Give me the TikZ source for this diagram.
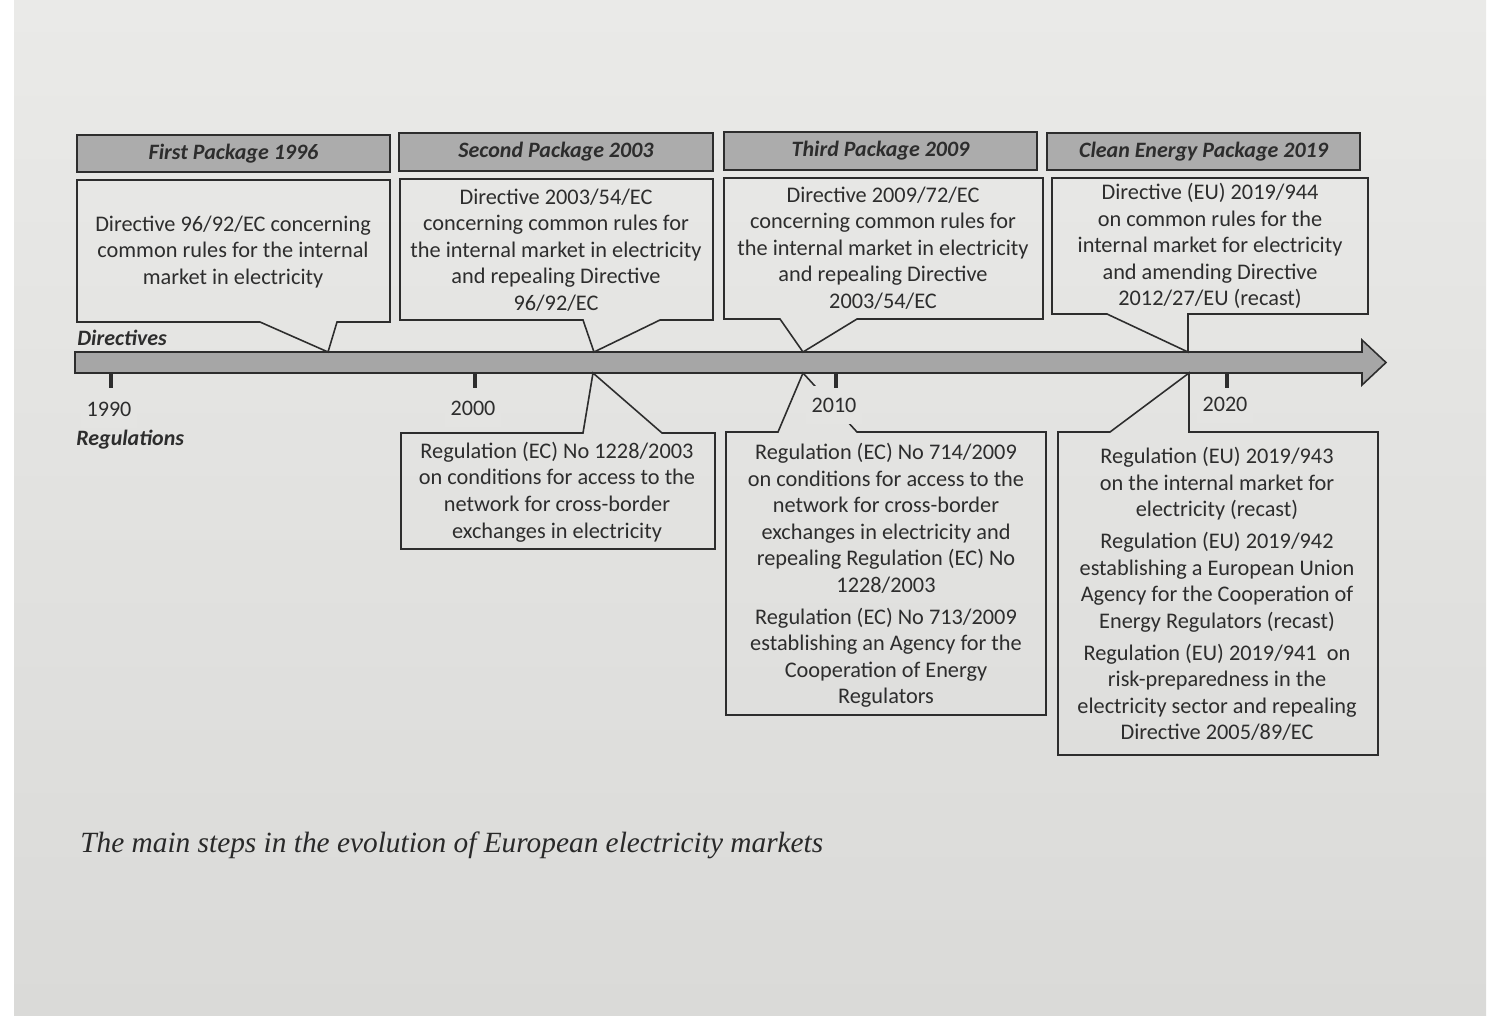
\documentclass[tikz,border=0pt]{standalone}
\usepackage{fontspec}
\setmainfont{Carlito}
\newfontfamily\captionserif{Liberation Serif}
\usepackage{tikz}
\usetikzlibrary{positioning,calc}
\usepackage{xcolor}

\definecolor{papertop}{RGB}{234,234,232}
\definecolor{paperbot}{RGB}{218,218,216}
\definecolor{paper}{RGB}{228,228,226}
\definecolor{pkggray}{RGB}{172,172,172}
\definecolor{axisgray}{RGB}{166,166,166}
\definecolor{ink}{RGB}{45,45,45}

\tikzset{
  pkg/.style={draw=ink, fill=pkggray, line width=0.9pt, minimum width=6.27cm,
    minimum height=0.75cm, inner sep=0pt, text=ink,
    font=\bfseries\itshape\fontsize{12.5}{14}\selectfont},
  callbox/.style={draw=ink, line width=0.9pt, line join=miter},
  bodytext/.style={align=center, text=ink, inner sep=0pt,
    font=\fontsize{12.7}{15.1}\selectfont},
  sidelabel/.style={anchor=west, text=ink, inner sep=0pt,
    font=\bfseries\itshape\fontsize{12.5}{14}\selectfont},
  yearlabel/.style={text=ink, fill=paper, inner xsep=3pt, inner ysep=6.5pt,
    font=\fontsize{12.6}{14}\selectfont},
}

\begin{document}
\begin{tikzpicture}[x=0.02cm, y=-0.02cm]
  \useasboundingbox (0,0) rectangle (1494,1015);
  % Page
  \fill[white] (0,0) rectangle (1494,1015);
  \shade[top color=papertop, bottom color=paperbot] (14,0) rectangle (1486,1015);

  % Package headers
  \node[pkg] (pkg1) at (233.5,153.5) {First Package 1996};
  \node[pkg] (pkg2) at (556,152) {Second Package 2003};
  \node[pkg] (pkg3) at (880.5,151) {Third Package 2009};
  \node[pkg] (pkg4) at (1203.5,151.5) {Clean Energy Package 2019};

  % Time axis
  \filldraw[fill=axisgray, draw=ink, line width=0.9pt, line join=miter]
    (75,352) -- (1362,352) -- (1362,340) -- (1386,362.5) -- (1362,385)
    -- (1362,373) -- (75,373) -- cycle;
  \node[sidelabel] (dirlabel) at (77,338) {Directives};
  \node[sidelabel] (reglabel) at (76,440) {Regulations};

  % Directive callouts (pointing down to the axis)
  \draw[callbox] (77,180) -- (390,180) -- (390,322) -- (337,322) -- (328,352)
    -- (260,322) -- (77,322) -- cycle;
  \node[bodytext] (dir1) at (233,252)
    {Directive 96/92/EC concerning\\common rules for the internal\\market in electricity};

  \draw[callbox] (400,179) -- (713,179) -- (713,320) -- (660,320) -- (594,352)
    -- (583,320) -- (400,320) -- cycle;
  \node[bodytext] (dir2) at (556,250)
    {Directive 2003/54/EC\\concerning common rules for\\the internal market in electricity\\and repealing Directive\\96/92/EC};

  \draw[callbox] (724,178) -- (1043,178) -- (1043,319) -- (857,319) -- (803,352)
    -- (780,319) -- (724,319) -- cycle;
  \node[bodytext] (dir3) at (883,248)
    {Directive 2009/72/EC\\concerning common rules for\\the internal market in electricity\\and repealing Directive\\2003/54/EC};

  \draw[callbox] (1052,178) -- (1368,178) -- (1368,314) -- (1188,314) -- (1188,352)
    -- (1107,314) -- (1052,314) -- cycle;
  \node[bodytext] (dir4) at (1210,246)
    {Directive (EU) 2019/944\\on common rules for the\\internal market for electricity\\and amending Directive\\2012/27/EU (recast)};

  % Regulation callouts (pointing up to the axis)
  \draw[callbox] (401,433) -- (583,433) -- (593,373) -- (662,433) -- (715,433)
    -- (715,549) -- (401,549) -- cycle;
  \node[bodytext] (reg2) at (557,492)
    {Regulation (EC) No 1228/2003\\on conditions for access to the\\network for cross-border\\exchanges in electricity};

  \draw[callbox] (726,432) -- (778,432) -- (803,373) -- (857,432) -- (1046,432)
    -- (1046,715) -- (726,715) -- cycle;
  \node[bodytext] (reg3) at (886,575.5)
    {Regulation (EC) No 714/2009\\on conditions for access to the\\network for cross-border\\exchanges in electricity and\\repealing Regulation (EC) No\\1228/2003\\[3pt]
     Regulation (EC) No 713/2009\\establishing an Agency for the\\Cooperation of Energy\\Regulators};

  \draw[callbox] (1058,432) -- (1110,432) -- (1189,373) -- (1189,432) -- (1378,432)
    -- (1378,755) -- (1058,755) -- cycle;
  \node[bodytext] (reg4) at (1217,594)
    {Regulation (EU) 2019/943\\on the internal market for\\electricity (recast)\\[3pt]
     Regulation (EU) 2019/942\\establishing a European Union\\Agency for the Cooperation of\\Energy Regulators (recast)\\[3pt]
     Regulation (EU) 2019/941~~on\\risk-preparedness in the\\electricity sector and repealing\\Directive 2005/89/EC};

  % Years and ticks
  \foreach \tx/\ty/\yr in {111/409/1990, 475/408/2000, 836/405/2010, 1227/404/2020}{
    \node[yearlabel] (yr\yr) at (\tx-2,\ty) {\yr};
    \draw[ink, line width=1.8pt] (\tx,373) -- (\tx,388);
  }

  % Caption
  \node[anchor=west, inner sep=0pt, text=ink!90!black,
    font=\captionserif\itshape\fontsize{16.7}{20}\selectfont] (caption) at (80,845)
    {The main steps in the evolution of European electricity markets};
\end{tikzpicture}
\end{document}
